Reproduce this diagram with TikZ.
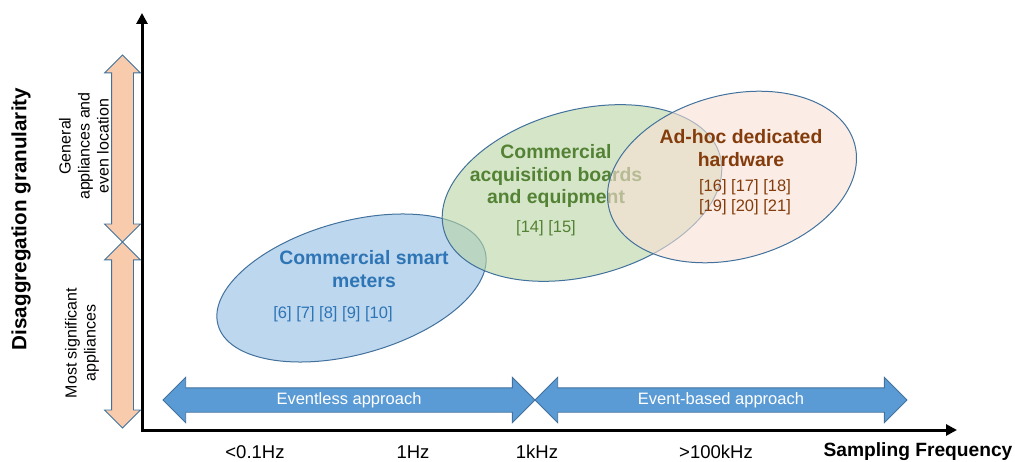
\documentclass[tikz,border=0pt]{standalone}
\usepackage{fontspec}
\setmainfont{Liberation Sans}
\usetikzlibrary{shapes.geometric,shapes.arrows,arrows.meta}

\definecolor{edgeblue}{RGB}{65,113,156}
\definecolor{meterfill}{RGB}{189,215,238}
\definecolor{boardfill}{RGB}{185,213,163}
\definecolor{hwfill}{RGB}{248,225,213}
\definecolor{meterblue}{RGB}{46,117,182}
\definecolor{boardgreen}{RGB}{84,130,53}
\definecolor{hwbrown}{RGB}{132,60,12}
\definecolor{bandblue}{RGB}{91,155,213}
\definecolor{levelorange}{RGB}{248,203,173}

\begin{document}
\begin{tikzpicture}[x=1pt,y=-1pt,
    blob/.style={ellipse,draw=edgeblue,line width=1pt,inner sep=0pt},
    blobtitle/.style={align=center,font=\fontsize{19.4}{22.5}\selectfont\bfseries},
    refs/.style={align=center,font=\fontsize{16.5}{20}\selectfont},
    band/.style={double arrow,draw=edgeblue,fill=bandblue,line width=0.8pt,minimum width=45pt,minimum height=372pt,
        double arrow head extend=10.5pt,double arrow tip angle=90,inner xsep=0pt,inner ysep=4pt,
        text height=12pt,text depth=3.5pt,text=white,font=\fontsize{16.5}{20}\selectfont},
    level/.style={double arrow,rotate=90,draw=edgeblue,fill=levelorange,line width=0.8pt,minimum width=35pt,
        double arrow head extend=7pt,double arrow tip angle=90,inner xsep=0pt,inner ysep=10.5pt},
    sidetext/.style={rotate=90,align=center,font=\fontsize{16}{19}\selectfont},
    freq/.style={font=\fontsize{18.5}{22}\selectfont},
    axis/.style={line width=3pt,{Triangle[length=11pt,width=11pt]}-{Triangle[length=11pt,width=11pt]}}]
    \useasboundingbox (0,0) rectangle (1015,462);

    \coordinate (origin) at (142,430);
    \coordinate (ytip) at (142,13);
    \coordinate (xtip) at (957,430);
    \draw[axis] (ytip) -- (origin) -- (xtip);

    \node[blob,fill=meterfill,minimum width=277pt,minimum height=133pt,rotate=15.5] (meters) at (351.5,288) {};
    \node[blobtitle,text=meterblue] (meterstitle) at (364,269) {Commercial smart\\meters};
    \node[refs,text=meterblue] (metersrefs) at (333,314) {[6] [7] [8] [9] [10]};

    \node[blob,fill=boardfill,fill opacity=0.6,minimum width=286pt,minimum height=166pt,rotate=15] (boards) at (582,193) {};
    \node[blobtitle,text=boardgreen] (boardstitle) at (556,176) {Commercial\\acquisition boards\\and equipment};
    \node[refs,text=boardgreen] (boardsrefs) at (546,228) {[14] [15]};

    \node[blob,fill=hwfill,fill opacity=0.6,minimum width=254pt,minimum height=164pt,rotate=15] (hardware) at (732,177) {};
    \node[blobtitle,text=hwbrown] (hardwaretitle) at (741,148) {Ad-hoc dedicated\\hardware};
    \node[refs,text=hwbrown] (hardwarerefs) at (745,197) {[16] [17] [18]\\{[19] [20] [21]}};

    \node[band] (eventless) at (349,400) {Eventless approach};
    \node[band] (eventbased) at (721,400) {Event-based approach};

    \node[level,minimum height=187pt] (general) at (122.5,148.5) {};
    \node[level,minimum height=186pt] (significant) at (122.5,335) {};
    \node[sidetext] (generaltext) at (84,146) {General\\appliances and\\even location};
    \node[sidetext] (significanttext) at (82,343) {Most significant\\appliances};

    \node[rotate=90,font=\fontsize{20.6}{24}\selectfont\bfseries] (ylabel) at (21,219) {Disaggregation granularity};
    \node[font=\fontsize{19.2}{22}\selectfont\bfseries] (xlabel) at (918,452) {Sampling Frequency};

    \node[freq] (f1) at (255,452) {<0.1Hz};
    \node[freq] (f2) at (413,452) {1Hz};
    \node[freq] (f3) at (537,452) {1kHz};
    \node[freq] (f4) at (716,452) {>100kHz};
\end{tikzpicture}
\end{document}
